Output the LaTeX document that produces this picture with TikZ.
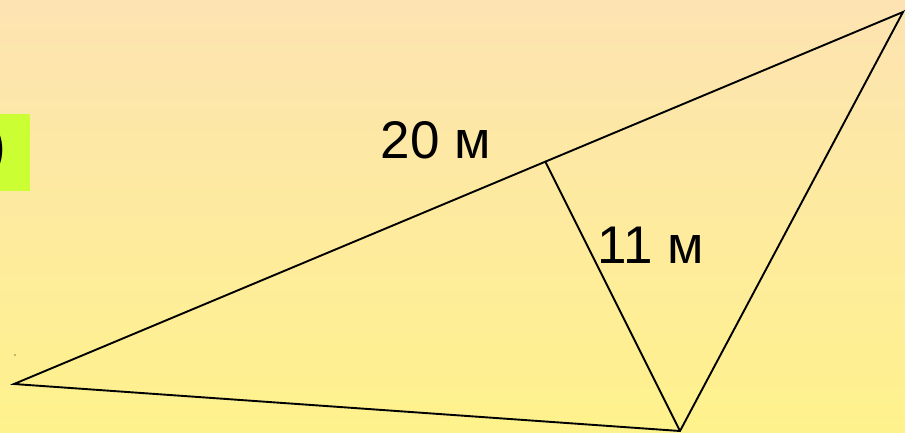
\documentclass[tikz,border=0pt]{standalone}
\usepackage{fontspec}
\setmainfont{Liberation Sans}
\definecolor{bgtop}{RGB}{253,227,178}
\definecolor{bgbot}{RGB}{254,242,140}
\definecolor{lime}{RGB}{204,255,51}
\tikzset{edge/.style={line width=1.9pt,black},
  lbl/.style={font=\fontsize{53}{58}\selectfont,inner sep=0pt}}
\begin{document}
\begin{tikzpicture}[x=1pt,y=-1pt]
\useasboundingbox (0,0) rectangle (905,432);
\clip (0,0) rectangle (905,432);
\shade[top color=bgtop,bottom color=bgbot] (0,0) rectangle (905,432);
\fill[lime] (0,114) rectangle (30,191);
\node[lbl,anchor=east,font=\fontsize{60}{64}\selectfont] (par) at (7,150) {)};
\fill[black] (15,355) circle (0.7);
\coordinate (A) at (14,384);
\coordinate (B) at (903,12);
\coordinate (C) at (680,431);
\coordinate (H) at (545,161);
\draw[edge,line join=miter] (A) -- (B) -- (C) -- cycle;
\draw[edge] (C) -- (H);
\node[lbl] (l20) at (436,140) {20 м};
\node[lbl] (l11) at (651,245) {11 м};
\end{tikzpicture}
\end{document}
